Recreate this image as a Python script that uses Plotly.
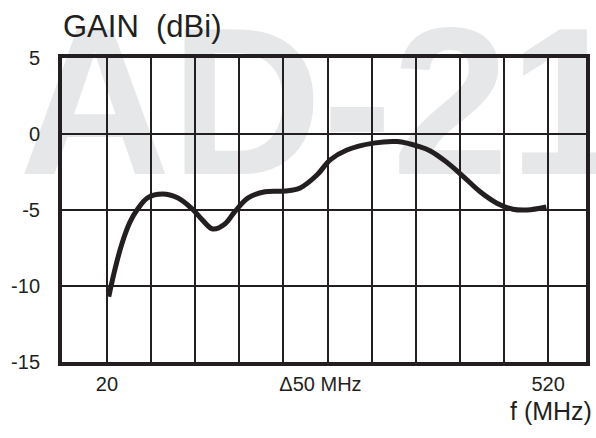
import plotly.graph_objects as go

# Data
freq_mhz = [22, 29, 37, 46, 54, 66, 83, 100, 116, 128, 140, 154, 165, 180, 199, 222, 239,
            258, 273, 292, 322, 349, 375, 386, 405, 424, 443, 462, 480, 496, 518]
gain_dbi = [-10.7, -8.9, -7.2, -5.8, -5.0, -4.2, -3.95, -4.2, -4.9, -5.65, -6.25, -5.9, -5.1,
            -4.2, -3.8, -3.75, -3.55, -2.7, -1.7, -1.05, -0.6, -0.5, -0.85, -1.1, -1.85, -2.8,
            -3.8, -4.55, -4.95, -5.0, -4.8]

x_tick_vals = [20, 262, 520]
x_tick_text = ["20", "Δ50\u00a0MHz", "520"]
y_tick_vals = [-15, -10, -5, 0, 5]
y_tick_text = ["-15", "-10", "-5", "0", "5"]

x_range = [-31, 563]
y_range = [-15, 5]

INK = "#231f20"
FONT = "Liberation Sans, Arial, sans-serif"

fig = go.Figure()
fig.add_trace(go.Scatter(
    x=freq_mhz, y=gain_dbi, mode="lines",
    line=dict(color=INK, width=5, shape="spline", smoothing=1.0),
    showlegend=False, hoverinfo="skip",
))
# invisible trace carrying the labelled tick axis
fig.add_trace(go.Scatter(x=[None], y=[None], xaxis="x2", showlegend=False, hoverinfo="skip"))

fig.update_layout(
    width=596, height=438,
    margin=dict(l=62, r=10, t=58, b=76),
    paper_bgcolor="white",
    plot_bgcolor="rgba(0,0,0,0)",
    font=dict(family=FONT, color=INK, size=20),
    xaxis=dict(
        range=x_range, tick0=20, dtick=50, showticklabels=False, automargin=False,
        showgrid=True, gridcolor=INK, gridwidth=2, zeroline=False,
        showline=True, linecolor=INK, linewidth=4, mirror=True, ticks="",
    ),
    xaxis2=dict(
        range=x_range, overlaying="x", anchor="y", side="bottom", automargin=False,
        tickmode="array", tickvals=x_tick_vals, ticktext=x_tick_text,
        showgrid=False, zeroline=False, showline=False, ticks="",
        ticklabelstandoff=8, tickfont=dict(size=20, family=FONT, color=INK),
    ),
    yaxis=dict(
        range=y_range, tickmode="array", tickvals=y_tick_vals, ticktext=y_tick_text,
        automargin=False,
        showgrid=True, gridcolor=INK, gridwidth=2, zeroline=False,
        showline=True, linecolor=INK, linewidth=4, mirror=True, ticks="",
        ticklabelstandoff=14, tickfont=dict(size=20, family=FONT, color=INK),
    ),
    shapes=[dict(
        type="rect", xref="paper", yref="paper",
        x0=-0.088, x1=1.2, y0=0.536, y1=1.3,
        line=dict(width=0), fillcolor="rgba(0,0,0,0)", layer="below",
        label=dict(text="AD-21", textposition="bottom left", padding=0,
                   font=dict(family="Liberation Sans, Arial, sans-serif", size=210,
                             color="#e6e7e8", weight="bold")),
    )],
    annotations=[
        dict(text="GAIN\u00a0\u00a0(dBi)", xref="paper", yref="paper", x=-0.002, y=1.105,
             xanchor="left", yanchor="middle", showarrow=False,
             font=dict(size=31, family=FONT, color=INK)),
        dict(text="f (MHz)", xref="paper", yref="paper", x=1.015, y=-0.161,
             xanchor="right", yanchor="middle", showarrow=False,
             font=dict(size=25, family=FONT, color=INK)),
    ],
)

fig.write_html("out.html", config={"displayModeBar": False},
               post_script="document.body.style.margin='0';")
